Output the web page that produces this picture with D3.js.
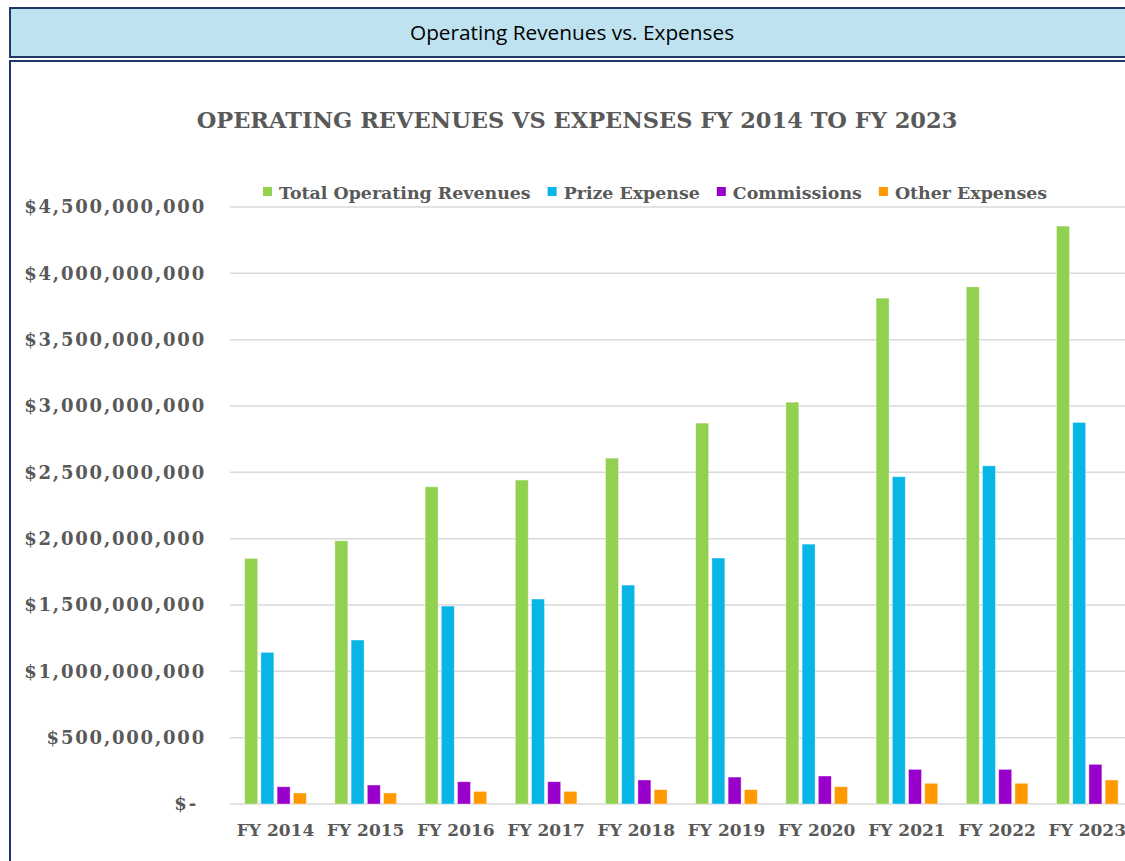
<!DOCTYPE html>
<html>
<head>
<meta charset="utf-8">
<script src="https://cdn.jsdelivr.net/npm/d3@7"></script>
<style>
  body { margin: 0; background: #ffffff; }
  svg { display: block; }
</style>
</head>
<body>
<svg id="chart"></svg>
<script>
// Data
const years = ["FY 2014", "FY 2015", "FY 2016", "FY 2017", "FY 2018",
               "FY 2019", "FY 2020", "FY 2021", "FY 2022", "FY 2023"];
const seriesNames = ["Total Operating Revenues", "Prize Expense", "Commissions", "Other Expenses"];
const seriesColors = ["#92D050", "#08B6E6", "#9900CC", "#FF9900"];
const totalRevenues = [1.851e9, 1.984e9, 2.391e9, 2.442e9, 2.607e9, 2.871e9, 3.029e9, 3.813e9, 3.898e9, 4.356e9];
const prizeExpense  = [1.143e9, 1.236e9, 1.492e9, 1.545e9, 1.650e9, 1.854e9, 1.959e9, 2.467e9, 2.549e9, 2.876e9];
const commissions   = [0.130e9, 0.143e9, 0.168e9, 0.168e9, 0.181e9, 0.203e9, 0.211e9, 0.261e9, 0.261e9, 0.299e9];
const otherExpenses = [0.083e9, 0.083e9, 0.095e9, 0.095e9, 0.108e9, 0.108e9, 0.130e9, 0.156e9, 0.156e9, 0.181e9];
const yTicks = [0, 5e8, 1e9, 1.5e9, 2e9, 2.5e9, 3e9, 3.5e9, 4e9, 4.5e9];

const seriesValues = [totalRevenues, prizeExpense, commissions, otherExpenses];

const W = 1125, H = 861;
const svg = d3.select("#chart").attr("width", W).attr("height", H);

const navy = "#1F3864";
const grey = "#595959";
const serif = "'DejaVu Serif', serif";

// Header banner
svg.append("rect")
    .attr("x", 10).attr("y", 8)
    .attr("width", W + 10).attr("height", 49)
    .attr("fill", "#BEE2F0")
    .attr("stroke", navy)
    .attr("stroke-width", 2);

svg.append("text")
    .attr("x", 572).attr("y", 40)
    .attr("text-anchor", "middle")
    .attr("font-family", "'Open Sans', sans-serif")
    .attr("font-size", "20.8px")
    .attr("fill", "#000")
    .text("Operating Revenues vs. Expenses");

// Chart frame
svg.append("rect")
    .attr("x", 10).attr("y", 61)
    .attr("width", W + 10).attr("height", H)
    .attr("fill", "#fff")
    .attr("stroke", navy)
    .attr("stroke-width", 2);

// Title
svg.append("text")
    .attr("x", 577).attr("y", 128)
    .attr("text-anchor", "middle")
    .attr("font-family", serif)
    .attr("font-weight", "bold")
    .attr("font-size", "22.5px")
    .attr("fill", grey)
    .text("OPERATING REVENUES VS EXPENSES FY 2014 TO FY 2023");

// Scales
const x0 = d3.scaleBand()
    .domain(years)
    .range([230.4, 1132.4])
    .paddingInner(0.317)
    .paddingOuter(0.1585);

const x1 = d3.scaleBand()
    .domain(seriesNames)
    .range([0, x0.bandwidth()])
    .paddingInner(0.2);

const y = d3.scaleLinear()
    .domain([0, 4.5e9])
    .range([804, 207]);

// Gridlines
svg.append("g")
    .selectAll("line")
    .data(yTicks)
    .join("line")
    .attr("x1", 230)
    .attr("x2", W)
    .attr("y1", d => y(d))
    .attr("y2", d => y(d))
    .attr("stroke", "#D9D9D9")
    .attr("stroke-width", 1.5);

// Y axis labels
const fmt = d3.format(",");
const yAxis = svg.append("g")
    .attr("transform", "translate(230,0)")
    .call(d3.axisLeft(y)
        .tickValues(yTicks)
        .tickSize(0)
        .tickPadding(24)
        .tickFormat(d => d === 0 ? "$- " : "$" + fmt(d)));
yAxis.select(".domain").remove();
yAxis.selectAll("text")
    .attr("font-family", serif)
    .attr("font-weight", "bold")
    .attr("font-size", "18px")
    .attr("letter-spacing", "1.8px")
    .attr("fill", grey)
    .style("white-space", "pre");

// Bars
const groups = svg.append("g")
    .selectAll("g")
    .data(years)
    .join("g")
    .attr("transform", d => `translate(${x0(d)},0)`);

groups.selectAll("rect")
    .data((d, i) => seriesNames.map((s, k) => ({ series: s, k: k, value: seriesValues[k][i] })))
    .join("rect")
    .attr("x", d => x1(d.series))
    .attr("y", d => y(d.value))
    .attr("width", x1.bandwidth())
    .attr("height", d => y(0) - y(d.value))
    .attr("fill", d => seriesColors[d.k])
    .attr("stroke", "#fff")
    .attr("stroke-opacity", 0.5)
    .attr("stroke-width", 0.75);

// X axis labels
const xAxis = svg.append("g")
    .attr("transform", "translate(0,804)")
    .call(d3.axisBottom(x0).tickSize(0).tickPadding(20));
xAxis.select(".domain").remove();
xAxis.selectAll("text")
    .attr("font-family", serif)
    .attr("font-weight", "bold")
    .attr("font-size", "17px")
    .attr("fill", grey);

// Legend
const legend = svg.append("g").attr("transform", "translate(263,199)");
let lx = 0;
seriesNames.forEach((name, k) => {
    legend.append("rect")
        .attr("x", lx).attr("y", -12)
        .attr("width", 9).attr("height", 9)
        .attr("fill", seriesColors[k]);
    const t = legend.append("text")
        .attr("x", lx + 16).attr("y", 0)
        .attr("font-family", serif)
        .attr("font-weight", "bold")
        .attr("font-size", "17.4px")
        .attr("fill", grey)
        .text(name);
    lx += 16 + t.node().getComputedTextLength() + 17;
});
</script>
</body>
</html>
